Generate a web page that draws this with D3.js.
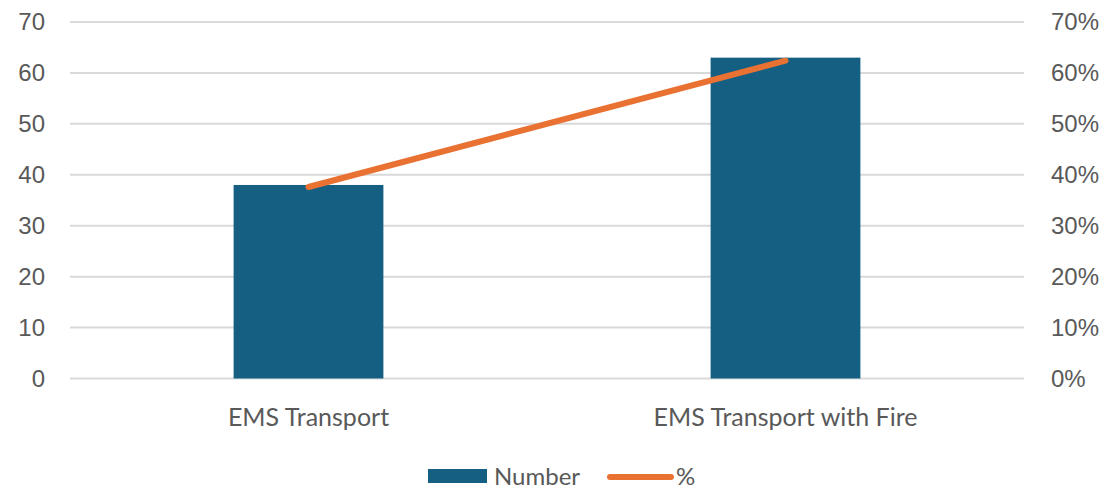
<!DOCTYPE html>
<html>
<head>
<meta charset="utf-8">
<script src="https://cdn.jsdelivr.net/npm/d3@7"></script>
<style>
  body { margin: 0; background: #fff; }
  svg text { fill: #595959; }
</style>
</head>
<body>
<div id="chart"></div>
<script>
// chart data
var categories = ["EMS Transport", "EMS Transport with Fire"];
var numberValues = [38, 63];
var percentValues = [0.376, 0.624];
var leftTicks = [0, 10, 20, 30, 40, 50, 60, 70];
var rightTicks = [0, 0.1, 0.2, 0.3, 0.4, 0.5, 0.6, 0.7];
var seriesNames = ["Number", "%"];

var W = 1105, H = 490;
var margin = {top: 22, right: 81, bottom: 111.5, left: 70};
var colour = {bar: "#156082", line: "#e97132", grid: "#d9d9d9", text: "#595959"};

var svg = d3.select("#chart").append("svg")
    .attr("width", W)
    .attr("height", H);

var x = d3.scaleBand()
    .domain(categories)
    .range([margin.left, W - margin.right])
    .paddingInner(0.686)
    .paddingOuter(0.343);

var yLeft = d3.scaleLinear().domain([0, 70]).range([H - margin.bottom, margin.top]);
var yRight = d3.scaleLinear().domain([0, 0.7]).range([H - margin.bottom, margin.top]);

//gridlines
svg.append("g")
    .selectAll("line")
    .data(leftTicks)
    .enter().append("line")
    .attr("x1", margin.left)
    .attr("x2", W - margin.right)
    .attr("y1", function(d){ return yLeft(d); })
    .attr("y2", function(d){ return yLeft(d); })
    .attr("stroke", colour.grid)
    .attr("stroke-width", 2);

//left axis
var leftAxis = svg.append("g")
    .attr("transform", "translate(" + (margin.left - 25) + ",0)")
    .call(d3.axisLeft(yLeft).tickValues(leftTicks).tickSize(0).tickPadding(0));
leftAxis.select(".domain").remove();
leftAxis.selectAll("text")
    .attr("font-family", "Liberation Sans, Arial, sans-serif")
    .attr("font-size", 24)
    .attr("fill", colour.text);

//right axis
var rightAxis = svg.append("g")
    .attr("transform", "translate(" + (W - margin.right + 27) + ",0)")
    .call(d3.axisRight(yRight).tickValues(rightTicks).tickSize(0).tickPadding(0)
        .tickFormat(d3.format(".0%")));
rightAxis.select(".domain").remove();
rightAxis.selectAll("text")
    .attr("font-family", "Liberation Sans, Arial, sans-serif")
    .attr("font-size", 24)
    .attr("fill", colour.text);

//category axis
var bottomAxis = svg.append("g")
    .attr("transform", "translate(0," + (H - margin.bottom) + ")")
    .call(d3.axisBottom(x).tickSize(0));
bottomAxis.select(".domain").remove();
bottomAxis.selectAll("text")
    .attr("y", 47.5)
    .attr("dy", 0)
    .attr("font-family", "Lato, sans-serif")
    .attr("font-size", 25)
    .attr("fill", colour.text);

//bars
svg.append("g")
    .selectAll("rect")
    .data(numberValues)
    .enter().append("rect")
    .attr("x", function(d, i){ return x(categories[i]); })
    .attr("y", function(d){ return yLeft(d); })
    .attr("width", x.bandwidth())
    .attr("height", function(d){ return yLeft(0) - yLeft(d); })
    .attr("fill", colour.bar);

//line
var line = d3.line()
    .x(function(d, i){ return x(categories[i]) + x.bandwidth() / 2; })
    .y(function(d){ return yRight(d); });

svg.append("path")
    .datum(percentValues)
    .attr("d", line)
    .attr("fill", "none")
    .attr("stroke", colour.line)
    .attr("stroke-width", 6)
    .attr("stroke-linecap", "round");

//legend
var legend = svg.append("g").attr("font-family", "Lato, sans-serif").attr("font-size", 24);
legend.append("rect")
    .attr("x", 428).attr("y", 469)
    .attr("width", 59).attr("height", 14)
    .attr("fill", colour.bar);
legend.append("text")
    .attr("x", 494).attr("y", 484.5)
    .attr("fill", colour.text)
    .text(seriesNames[0]);
legend.append("line")
    .attr("x1", 610).attr("x2", 671)
    .attr("y1", 477).attr("y2", 477)
    .attr("stroke", colour.line)
    .attr("stroke-width", 6)
    .attr("stroke-linecap", "round");
legend.append("text")
    .attr("x", 676).attr("y", 484.5)
    .attr("fill", colour.text)
    .text(seriesNames[1]);
</script>
</body>
</html>
